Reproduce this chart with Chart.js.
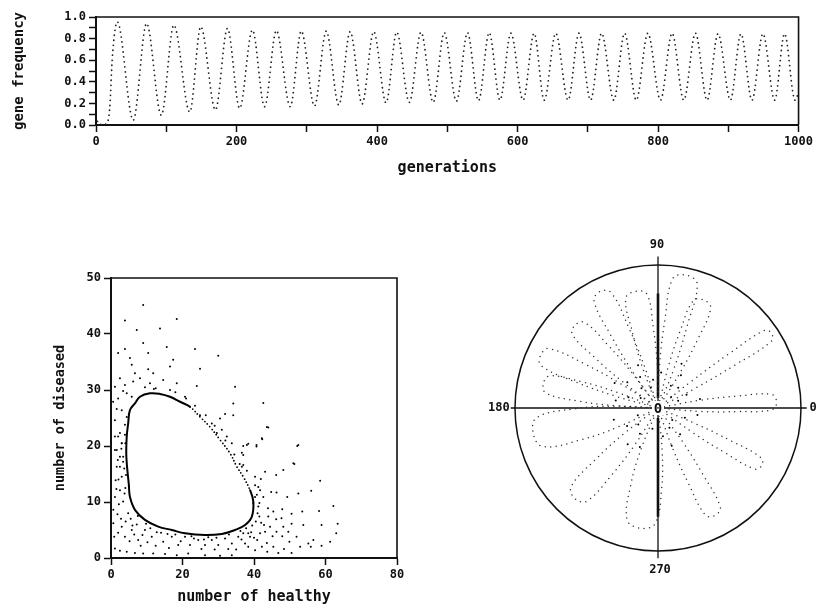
<!DOCTYPE html>
<html>
<head>
<meta charset="utf-8">
<script src="https://cdn.jsdelivr.net/npm/chart.js@4.4.0/dist/chart.umd.min.js"></script>
<style>
  html, body { margin: 0; padding: 0; background: #fff; }
  body { width: 816px; height: 610px; position: relative; overflow: hidden; }
  canvas { position: absolute; }
  #top { left: 0; top: 0; }
  #scat { left: 0; top: 250px; }
  #polar { left: 470px; top: 230px; }
</style>
</head>
<body>
<canvas id="top" width="816" height="190"></canvas>
<canvas id="scat" width="420" height="360"></canvas>
<canvas id="polar" width="346" height="380"></canvas>
<script>
// --- top panel: gene frequency over generations (peaks and troughs)
const generations = [0, 3, 8, 15, 18.5, 20, 23, 30.3, 53, 72, 93, 110.8, 133.5, 149.1, 170, 187.1,
  204.5, 222.6, 240, 256.7, 276.5, 292.2, 311, 327.7, 345.6, 361.8, 378.8, 395.3, 412.9, 428,
  446, 462.6, 480, 495.7, 513, 528.8, 544.5, 559.7, 575, 590.5, 608, 623.6, 638, 654.4, 672,
  687.5, 704, 719.7, 737, 752.4, 769, 785.5, 803.5, 820, 836.6, 853.3, 869.8, 885.4, 903, 918,
  933.7, 949.3, 966, 980.1, 995, 1000];
const geneFreq = [0.08, 0.02, 0.005, 0.01, 0.09, 0.2, 0.6, 0.955, 0.045, 0.94, 0.09, 0.925, 0.12,
  0.91, 0.14, 0.895, 0.155, 0.88, 0.17, 0.875, 0.17, 0.87, 0.175, 0.87, 0.185, 0.865, 0.195,
  0.865, 0.205, 0.86, 0.21, 0.86, 0.21, 0.855, 0.22, 0.855, 0.225, 0.855, 0.23, 0.85, 0.23,
  0.85, 0.23, 0.85, 0.23, 0.85, 0.23, 0.85, 0.23, 0.85, 0.23, 0.85, 0.23, 0.85, 0.23, 0.85,
  0.23, 0.845, 0.23, 0.845, 0.23, 0.845, 0.23, 0.845, 0.23, 0.3];
const topXLabels = ['0', '200', '400', '600', '800', '1000'];
const topYLabels = ['0.0', '0.2', '0.4', '0.6', '0.8', '1.0'];

// --- bottom left: healthy vs diseased
const ringPts = [[5, 13], [4.3, 18], [4.4, 21.7], [4.8, 24], [5.3, 26.4], [6.7, 27.6], [8.1, 28.8],
  [10.9, 29.4], [13.7, 29.3], [16.5, 28.8], [19.3, 27.9], [22.1, 27], [24.9, 25.2], [27.7, 23.4],
  [30.5, 21.1], [33.3, 18.7], [35.2, 16.3], [37, 14.5], [38.9, 12.1], [39.8, 10.1], [39.4, 7.4],
  [37.5, 5.9], [34.7, 5], [31, 4.3], [26.3, 4.1], [20.7, 4.4], [17, 5], [13.2, 5.6], [9.5, 6.8],
  [6.7, 8.6], [5.3, 10.9], [5, 13]];
const upperDots = [[9, 45.2], [3.9, 42.4], [18.4, 42.7], [7.2, 40.7], [13.7, 41], [2, 36.6],
  [3.9, 37.3], [9, 38.4], [15.6, 37.7], [23.5, 37.3], [30, 36.1], [10.4, 36.6], [5.3, 35.7],
  [5.8, 34.5], [17.4, 35.4], [16.5, 34.2], [24.9, 33.8], [10.4, 33.7], [6.7, 33], [2.5, 32.1],
  [8.1, 32.1], [11.8, 33], [10.9, 31.2], [14.6, 31.8], [18.4, 31.2], [1.1, 30.6], [3.9, 30.9],
  [24, 30.7], [34.7, 30.6], [4.4, 29.4], [5.8, 28.8], [0.6, 27.9], [1.6, 26.6], [3, 26.4],
  [4.4, 25.2], [1.1, 24.6], [3.9, 23.8], [24.9, 25.5], [30.5, 24.9], [31.9, 25.7], [34.2, 25.5],
  [42.6, 27.7], [34.2, 27.6], [20.7, 28.8], [16.5, 30], [28.2, 24], [29.6, 22.3], [31, 22.9],
  [32.4, 21.7], [33.8, 20.5], [38, 20.2], [40.7, 19.9], [43.6, 23.4], [42.2, 21.4], [52.4, 20.2],
  [51, 16.9], [36.6, 18.8], [37, 16.6], [1.1, 21.7], [2.5, 22.3], [3, 20.5], [2.5, 18.1],
  [3.4, 17.2], [1.1, 19.3], [2, 28.5], [3.4, 29.8], [6.2, 31.5], [12.5, 30.3], [9.5, 30.5],
  [12, 30.2], [18, 29.6], [21, 28.5], [23.5, 27.2], [26.5, 25.5], [29, 23.6], [32, 21],
  [34.5, 18.5], [36, 16.8]];
const rightDots = [[44, 23.3], [42.3, 21.2], [52.1, 20], [51.3, 16.8], [48.2, 15.7], [58.5, 13.8],
  [56, 12], [62.2, 9.3], [58.2, 8.4], [63.4, 6.1], [63, 4.4], [58.9, 5.9], [61.3, 2.9], [58.9, 2.2],
  [55.9, 2], [53.5, 8.3], [53.8, 5.9], [50.5, 6.1], [50.5, 7.9], [52.4, 11.5], [49.3, 10.9],
  [46.3, 11.7], [44.8, 11.8], [46.2, 14.8], [41.9, 14.1], [43.1, 15.4], [47.9, 8.7], [46.2, 6.9],
  [47.9, 3.9], [49.9, 2.9], [52.9, 2], [46.8, 0.9], [48.4, 1.6], [45.4, 2], [45.2, 3.9],
  [43.6, 2.7], [43.7, 1.1], [50.5, 0.9], [42.8, 5.9], [43.9, 8.9], [41.2, 12.7], [40.7, 20.2],
  [38.4, 20.4], [37, 20], [38, 15.6], [37, 18.4], [40.3, 14.5], [40.3, 10.9], [42.6, 10.9],
  [41.5, 7.4], [41.7, 4.4], [40.9, 3.2], [36.6, 16.3], [40.3, 13], [41.7, 12.1], [39.8, 9.8],
  [41.2, 9.2], [38.9, 6.8], [37, 4.4], [38.9, 3.8], [38.4, 2], [40.3, 1.4], [42.2, 2], [43.1, 4.7],
  [44.5, 5.6], [46.3, 4.7], [48.2, 5.6], [44, 7.4], [45.4, 8.3], [47.7, 7.1], [49.6, 4.7],
  [51.9, 3.8], [55.2, 2.6], [56.6, 3.2], [39.5, 5.8], [40.5, 6.5], [41, 8], [39.2, 4.6],
  [40, 3.6], [42, 6.3], [41.5, 9.8], [40.8, 11.3]];
const lowerDots = [[1.1, 1.7], [2.5, 1.3], [4.4, 1.1], [6.7, 0.9], [9, 0.8], [11.8, 0.8], [15.1, 0.7],
  [18.4, 0.5], [0.9, 3.8], [0.65, 6.2], [0.65, 8.6], [1.1, 10.9], [1.3, 13.9], [1.6, 16.3],
  [1.6, 19.3], [2, 21.7], [3, 5.6], [3.9, 3.8], [5.8, 5], [4.8, 8], [3.4, 10.1], [2.5, 12.1],
  [3, 14.5], [2.5, 16.3], [3.4, 18.1], [3, 20.5], [3.9, 22], [7.6, 3.2], [9.5, 5], [11.4, 3.8],
  [14.6, 2.9], [17, 3.8], [18.8, 2.3], [20.7, 3.8], [22.1, 2.3], [24.4, 3.2], [26.3, 2.3],
  [28.2, 3.2], [30, 2.3], [31.9, 3.5], [33.8, 2.6], [35.6, 3.8], [37.5, 2.6], [38.4, 4.4],
  [21.6, 0.8], [26.3, 0.5], [30.5, 0.4], [33.8, 0.5], [2, 4.5], [2.8, 7], [4.1, 6.5], [5.2, 3],
  [6.5, 4.2], [7.2, 6], [8.3, 2.2], [8.8, 4.1], [10.2, 2.8], [12.5, 2.2], [12.8, 4.6], [15.8, 4.3],
  [16.2, 1.8], [19.5, 3], [23.2, 3.5], [25.3, 1.6], [27.2, 3.7], [29, 1.5], [32.8, 1.6], [35, 1.5],
  [36.5, 3.3], [1.8, 7.8], [2.2, 9.6], [3.8, 11.5], [4.2, 14.8], [2.1, 14], [3.7, 16], [1.9, 17.5],
  [2.9, 19.5], [4, 20.5], [4, 12.5], [1.5, 12.3], [5.5, 7], [6, 5.8], [9.8, 6.1], [11, 5.3],
  [7.5, 7.5], [14, 4.5], [18, 4.2], [22.5, 3.9], [26, 3.3], [29.5, 3.6], [33, 4.2], [36.2, 4.8],
  [37.8, 5.3]];
const scatXLabels = ['0', '20', '40', '60', '80'];
const scatYLabels = ['0', '10', '20', '30', '40', '50'];

// --- bottom right: polar petals as [angle in degrees, radius as fraction of circle]
const petals = [
  [[0, 0], [108, 0.3], [110, 0.6], [112.1, 0.87], [116.5, 0.91], [120.9, 0.87], [123, 0.6], [125, 0.3], [0, 0]],
  [[0, 0], [91, 0.3], [93.5, 0.58], [95.6, 0.8], [101, 0.83], [106.4, 0.8], [108.5, 0.58], [111, 0.3], [0, 0]],
  [[0, 0], [68, 0.3], [70.5, 0.62], [72.5, 0.91], [78, 0.95], [83.5, 0.91], [85.5, 0.62], [88, 0.3], [0, 0]],
  [[0, 0], [58, 0.3], [60, 0.56], [62.2, 0.79], [67, 0.82], [71.8, 0.79], [74, 0.56], [76, 0.3], [0, 0]],
  [[0, 0], [28, 0.3], [29.2, 0.62], [30.5, 0.92], [33.3, 0.95], [36.1, 0.92], [37.4, 0.62], [38.6, 0.3], [0, 0]],
  [[0, 0], [-4.5, 0.3], [-2.6, 0.56], [-0.8, 0.8], [3, 0.83], [6.8, 0.8], [8.6, 0.56], [10.5, 0.3], [0, 0]],
  [[0, 0], [126.5, 0.3], [128.5, 0.56], [130.7, 0.79], [135, 0.82], [139.3, 0.79], [141.5, 0.56], [143.5, 0.3], [0, 0]],
  [[0, 0], [147, 0.3], [149, 0.6], [151.5, 0.87], [155.8, 0.9], [160.1, 0.87], [162.5, 0.6], [164.5, 0.3], [0, 0]],
  [[0, 0], [159, 0.3], [161, 0.56], [163.5, 0.79], [168, 0.82], [172.5, 0.79], [175, 0.56], [177, 0.3], [0, 0]],
  [[0, 0], [177.5, 0.3], [180.5, 0.58], [184.5, 0.85], [191.5, 0.89], [198.5, 0.85], [202.5, 0.58], [205.5, 0.3], [0, 0]],
  [[0, 0], [217, 0.3], [219.5, 0.57], [222.2, 0.82], [227.4, 0.86], [232.6, 0.82], [235.3, 0.57], [237.8, 0.3], [0, 0]],
  [[0, 0], [247.5, 0.3], [250.5, 0.57], [254.5, 0.81], [261.5, 0.85], [268.5, 0.81], [272.5, 0.57], [275.5, 0.3], [0, 0]],
  [[0, 0], [290, 0.3], [292, 0.57], [293.9, 0.82], [298, 0.85], [302.1, 0.82], [304, 0.57], [306, 0.3], [0, 0]],
  [[0, 0], [324.8, 0.3], [326.2, 0.56], [327.8, 0.8], [331, 0.83], [334.2, 0.8], [335.8, 0.56], [337.2, 0.3], [0, 0]]
];
const centerDots = [[20, 0.15], [25, 0.22], [40, 0.12], [45, 0.2], [55, 0.28], [60, 0.18], [85, 0.25],
  [100, 0.2], [110, 0.15], [120, 0.25], [130, 0.18], [140, 0.28], [150, 0.14], [160, 0.22], [170, 0.3],
  [200, 0.15], [210, 0.25], [220, 0.18], [235, 0.22], [245, 0.3], [255, 0.15], [280, 0.2], [290, 0.28],
  [300, 0.16], [310, 0.24], [320, 0.13], [340, 0.2], [350, 0.28], [12, 0.3], [195, 0.32], [230, 0.33],
  [62, 0.35], [115, 0.33], [150, 0.35]];
const polarLabels = ['0', '90', '180', '270'];

const MONO = '"DejaVu Sans Mono", monospace';
const tickFont = { family: MONO, size: 12, weight: 'bold' };
const INK = '#111';

// top and right edges of the box
const framePlugin = {
  id: 'frame',
  afterDraw(chart) {
    const { ctx, chartArea: a } = chart;
    ctx.save();
    ctx.strokeStyle = INK;
    ctx.lineWidth = 1.6;
    ctx.beginPath();
    ctx.moveTo(a.left, a.top);
    ctx.lineTo(a.right, a.top);
    ctx.lineTo(a.right, a.bottom);
    ctx.stroke();
    ctx.restore();
  }
};

function axisStyle(extra) {
  return Object.assign({
    border: { display: true, color: INK, width: 2 },
    grid: { display: true, drawOnChartArea: false, drawTicks: true, tickLength: 7, color: INK, tickWidth: 1.5 }
  }, extra);
}

new Chart(document.getElementById('top'), {
  type: 'line',
  data: {
    datasets: [{
      data: generations.map((g, i) => ({ x: g, y: geneFreq[i] })),
      borderColor: '#222',
      borderWidth: 1.8,
      borderDash: [0, 5],
      borderCapStyle: 'round',
      cubicInterpolationMode: 'monotone',
      pointRadius: 0,
      fill: false
    }]
  },
  options: {
    responsive: false,
    animation: false,
    layout: { padding: { top: 17, right: 16, left: 0, bottom: 0 } },
    plugins: { legend: { display: false }, tooltip: { enabled: false } },
    scales: {
      x: axisStyle({
        type: 'linear', min: 0, max: 1000,
        afterFit: s => { s.height = 65; },
        ticks: {
          stepSize: 100, maxRotation: 0, autoSkip: false, color: INK, font: tickFont, padding: 3,
          callback: v => (v % 200 === 0 ? topXLabels[v / 200] : '')
        },
        title: { display: true, text: 'generations', color: INK,
          font: { family: MONO, size: 15, weight: 'bold' }, padding: { top: 0, bottom: 13 } }
      }),
      y: axisStyle({
        min: 0, max: 1,
        afterFit: s => { s.width = 96; },
        ticks: {
          stepSize: 0.1, autoSkip: false, color: INK, font: tickFont, padding: 3,
          callback: v => { const k = Math.round(v * 10); return k % 2 === 0 ? topYLabels[k / 2] : ''; }
        },
        title: { display: true, text: 'gene frequency', color: INK,
          font: { family: MONO, size: 14, weight: 'bold' }, padding: { top: 11, bottom: 0 } }
      })
    }
  },
  plugins: [framePlugin]
});

const toPt = p => ({ x: p[0], y: p[1] });
const dot = { showLine: false, pointRadius: 1, pointBackgroundColor: '#000', pointBorderWidth: 0 };

new Chart(document.getElementById('scat'), {
  type: 'scatter',
  data: {
    datasets: [
      Object.assign({ data: upperDots.map(toPt) }, dot),
      Object.assign({ data: rightDots.map(toPt) }, dot),
      Object.assign({ data: lowerDots.map(toPt) }, dot),
      {
        data: ringPts.map(toPt),
        showLine: true,
        tension: 0.4,
        borderColor: '#000',
        borderWidth: 2,
        pointRadius: 0,
        segment: {
          borderDash: c => (c.p0DataIndex >= 11 && c.p0DataIndex < 18 ? [0, 3.5] : undefined),
          borderWidth: c => (c.p0DataIndex >= 11 && c.p0DataIndex < 18 ? 1.8 : 2)
        },
        borderCapStyle: 'round'
      }
    ]
  },
  options: {
    responsive: false,
    animation: false,
    layout: { padding: { top: 28, right: 23, left: 0, bottom: 0 } },
    plugins: { legend: { display: false }, tooltip: { enabled: false } },
    scales: {
      x: axisStyle({
        type: 'linear', min: 0, max: 80,
        afterFit: s => { s.height = 52; },
        ticks: {
          stepSize: 20, maxRotation: 0, autoSkip: false, color: INK, font: tickFont, padding: 3,
          callback: v => scatXLabels[v / 20]
        },
        title: { display: true, text: 'number of healthy', color: INK,
          font: { family: MONO, size: 15, weight: 'bold' }, padding: { top: 0, bottom: 4 } }
      }),
      y: axisStyle({
        min: 0, max: 50,
        afterFit: s => { s.width = 111; },
        ticks: {
          stepSize: 10, autoSkip: false, color: INK, font: tickFont, padding: 3,
          callback: v => scatYLabels[v / 10]
        },
        title: { display: true, text: 'number of diseased', color: INK,
          font: { family: MONO, size: 13.5, weight: 'bold' }, padding: { top: 52, bottom: 0 } }
      })
    }
  },
  plugins: [framePlugin]
});

// polar angle/radius -> plane position for the library's linear scales
const polarPt = p => ({
  x: p[1] * Math.cos(p[0] * Math.PI / 180),
  y: p[1] * Math.sin(p[0] * Math.PI / 180)
});

const polarGrid = {
  id: 'polarGrid',
  beforeDatasetsDraw(chart) {
    const { ctx, scales: { x, y } } = chart;
    const cx = x.getPixelForValue(0), cy = y.getPixelForValue(0);
    const r = x.getPixelForValue(1) - cx;
    ctx.save();
    ctx.strokeStyle = INK;
    ctx.lineWidth = 1.5;
    ctx.beginPath();
    ctx.arc(cx, cy, r, 0, Math.PI * 2);
    ctx.stroke();
    ctx.lineWidth = 1.3;
    ctx.beginPath();
    ctx.moveTo(x.getPixelForValue(-1.03), cy);
    ctx.lineTo(x.getPixelForValue(1.04), cy);
    ctx.moveTo(cx, y.getPixelForValue(1.06));
    ctx.lineTo(cx, y.getPixelForValue(-1.05));
    ctx.stroke();
    ctx.lineWidth = 2.6;
    ctx.beginPath();
    ctx.moveTo(cx, y.getPixelForValue(0.8));
    ctx.lineTo(cx, y.getPixelForValue(0.07));
    ctx.moveTo(cx, y.getPixelForValue(-0.07));
    ctx.lineTo(cx, y.getPixelForValue(-0.76));
    ctx.stroke();
    ctx.restore();
  },
  afterDraw(chart) {
    const { ctx, scales: { x, y } } = chart;
    const cx = x.getPixelForValue(0), cy = y.getPixelForValue(0);
    ctx.save();
    ctx.fillStyle = INK;
    ctx.font = 'bold 12px ' + MONO;
    ctx.textBaseline = 'middle';
    ctx.textAlign = 'center';
    ctx.fillText(polarLabels[1], cx - 1, y.getPixelForValue(1.14));
    ctx.fillText(polarLabels[3], cx + 2, y.getPixelForValue(-1.13));
    ctx.textAlign = 'right';
    ctx.fillText(polarLabels[2], x.getPixelForValue(-1.03) - 1, cy);
    ctx.textAlign = 'left';
    ctx.fillText(polarLabels[0], x.getPixelForValue(1.06), cy);
    ctx.fillStyle = '#fff';
    ctx.fillRect(cx - 6, cy - 7, 12, 14);
    ctx.fillStyle = INK;
    ctx.font = 'bold 14px ' + MONO;
    ctx.textAlign = 'center';
    ctx.fillText(polarLabels[0], cx, cy + 1);
    ctx.restore();
  }
};

new Chart(document.getElementById('polar'), {
  type: 'scatter',
  data: {
    datasets: petals.map(p => ({
      data: p.map(polarPt),
      showLine: true,
      tension: 0.4,
      borderColor: '#333',
      borderWidth: 1.5,
      borderDash: [0, 5.5],
      borderCapStyle: 'round',
      pointRadius: 0
    })).concat([Object.assign({ data: centerDots.map(polarPt) }, dot)])
  },
  options: {
    responsive: false,
    animation: false,
    layout: { padding: { top: 35, right: 15, left: 45, bottom: 59 } },
    plugins: { legend: { display: false }, tooltip: { enabled: false } },
    scales: {
      x: { type: 'linear', min: -1, max: 1, display: false },
      y: { type: 'linear', min: -1, max: 1, display: false }
    }
  },
  plugins: [polarGrid]
});
</script>
</body>
</html>
